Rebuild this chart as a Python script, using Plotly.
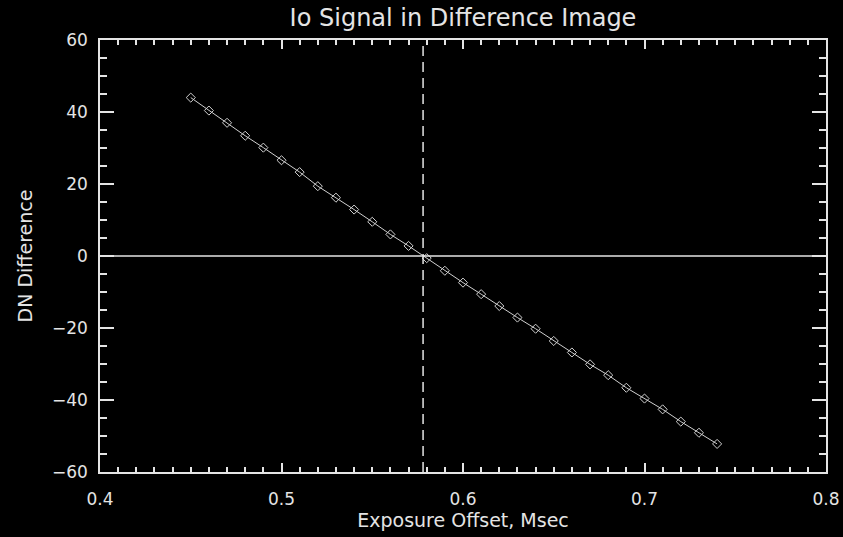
import plotly.graph_objects as go

offset_msec = [0.45, 0.46, 0.47, 0.48, 0.49, 0.50, 0.51, 0.52, 0.53, 0.54,
               0.55, 0.56, 0.57, 0.58, 0.59, 0.60, 0.61, 0.62, 0.63, 0.64,
               0.65, 0.66, 0.67, 0.68, 0.69, 0.70, 0.71, 0.72, 0.73, 0.74]
dn_difference = [44.0, 40.4, 37.0, 33.4, 30.1, 26.6, 23.3, 19.4, 16.2, 12.9,
                 9.5, 6.0, 2.8, -0.6, -4.1, -7.4, -10.6, -13.9, -17.1, -20.2,
                 -23.6, -26.8, -30.1, -33.1, -36.6, -39.6, -42.6, -46.0, -49.1, -52.2]
zero_crossing = 0.578
x_range = [0.4, 0.8]
y_range = [-60, 60]

fg = "#e4e4e4"
font_family = "DejaVu Sans"

fig = go.Figure()
fig.add_trace(go.Scatter(
    x=offset_msec, y=dn_difference, mode="lines+markers",
    line=dict(color="#d0d0d0", width=1),
    marker=dict(symbol="diamond-open", size=7, color="#d0d0d0", line=dict(width=1, color="#d0d0d0")),
    showlegend=False, hoverinfo="skip",
))
fig.add_trace(go.Scatter(
    x=x_range, y=[0, 0], mode="lines",
    line=dict(color=fg, width=1.5), showlegend=False, hoverinfo="skip",
))
fig.add_trace(go.Scatter(
    x=[zero_crossing, zero_crossing], y=y_range, mode="lines",
    line=dict(color=fg, width=1.5, dash="10px,6px"), showlegend=False, hoverinfo="skip",
))

fig.update_layout(
    width=843, height=537,
    margin=dict(l=100, r=17, t=40, b=65),
    paper_bgcolor="black", plot_bgcolor="black",
    font=dict(family=font_family, color=fg, size=17),
    title=dict(text="Io Signal in Difference Image", x=463 / 843, xanchor="center",
               y=1 - 18 / 537, yanchor="middle",
               font=dict(size=24, color=fg, family=font_family)),
    xaxis=dict(
        range=x_range, dtick=0.1, tickformat=".1f", automargin=False,
        ticks="inside", ticklen=9, tickwidth=1.5, tickcolor=fg,
        showline=True, linecolor=fg, linewidth=1.5, mirror="ticks",
        showgrid=False, zeroline=False,
        minor=dict(dtick=0.01, ticks="inside", ticklen=5, tickwidth=1.5, tickcolor=fg, showgrid=False),
        ticklabelstandoff=11,
        tickfont=dict(size=17),
        title=dict(text="Exposure Offset, Msec", standoff=4, font=dict(size=19)),
    ),
    yaxis=dict(
        range=y_range, dtick=20, automargin=False,
        ticks="inside", ticklen=14, tickwidth=1.5, tickcolor=fg,
        showline=True, linecolor=fg, linewidth=1.5, mirror="ticks",
        showgrid=False, zeroline=False,
        minor=dict(dtick=5, ticks="inside", ticklen=7, tickwidth=1.5, tickcolor=fg, showgrid=False),
        ticklabelstandoff=7,
        tickfont=dict(size=17),
        title=dict(text="DN Difference", standoff=14, font=dict(size=19)),
    ),
)

fig.write_html("out.html")
